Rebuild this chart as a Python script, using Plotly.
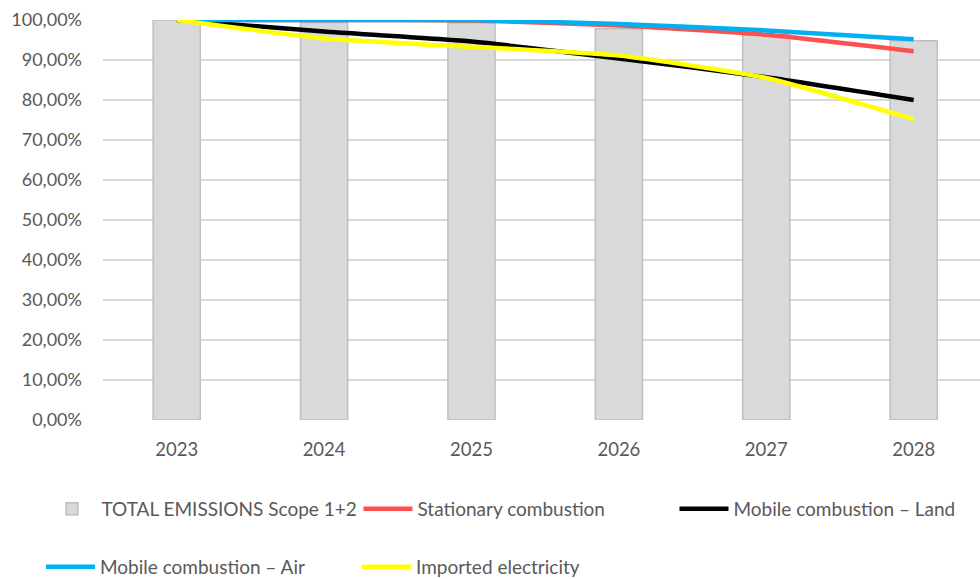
import plotly.graph_objects as go

years = ["2023", "2024", "2025", "2026", "2027", "2028"]
total_scope12 = [1.000, 0.994, 0.993, 0.978, 0.963, 0.948]
stationary = [1.000, 1.000, 0.999, 0.986, 0.963, 0.922]
mobile_land = [1.000, 0.971, 0.946, 0.904, 0.857, 0.800]
mobile_air = [1.000, 1.000, 1.000, 0.990, 0.974, 0.952]
imported_elec = [1.000, 0.954, 0.933, 0.911, 0.855, 0.752]

FONT = "Lato"
TXT = "#595959"

fig = go.Figure()
fig.add_trace(go.Bar(
    x=years, y=total_scope12, name="TOTAL EMISSIONS Scope 1+2",
    marker=dict(color="#D9D9D9", line=dict(color="#BFBFBF", width=1.5)),
    width=0.32, legend="legend", legendwidth=252,
))
line_specs = [
    ("Stationary combustion", stationary, "#FF5050", "legend", 252),
    ("Mobile combustion – Land", mobile_land, "#000000", "legend", 230),
    ("Mobile combustion – Air", mobile_air, "#00B0F0", "legend2", 252),
    ("Imported electricity", imported_elec, "#FFFF00", "legend2", 190),
]
for name, vals, col, lg, lw in line_specs:
    fig.add_trace(go.Scatter(
        x=years, y=vals, name=name, mode="lines",
        line=dict(color=col, width=4.5, shape="spline", smoothing=0.5),
        cliponaxis=False, legend=lg, legendwidth=lw,
    ))

legend_common = dict(
    orientation="h", xanchor="left", yanchor="middle",
    font=dict(family=FONT, size=19, color=TXT),
    itemwidth=49, bgcolor="rgba(0,0,0,0)", traceorder="normal",
    itemclick=False, borderwidth=0,
)

fig.update_layout(
    width=980, height=579,
    margin=dict(l=103, r=0, t=20, b=159),
    paper_bgcolor="white", plot_bgcolor="white",
    separators=",.",
    barmode="overlay",
    font=dict(family=FONT, size=17, color=TXT),
    showlegend=True,
    legend=dict(x=-0.069, y=-0.2225, **legend_common),
    legend2=dict(x=0.0418, y=0.0207, xref="container", yref="container",
                 **legend_common),
    xaxis=dict(
        type="category", range=[-0.5, 5.45],
        showgrid=False, zeroline=False, showline=False,
        ticks="", tickfont=dict(family=FONT, size=18.5, color=TXT),
        ticklabelstandoff=16,
    ),
    yaxis=dict(
        range=[0, 1.0], dtick=0.1, tickformat=".2%",
        showgrid=True, gridcolor="#D9D9D9", gridwidth=1.5,
        zeroline=False, showline=False, ticks="",
        tickfont=dict(family=FONT, size=18, color=TXT),
        ticklabelstandoff=20,
    ),
)

fig.write_html(
    "out.html",
    config={"displayModeBar": False},
    post_script="document.body.style.margin='0';document.body.style.padding='0';",
)
